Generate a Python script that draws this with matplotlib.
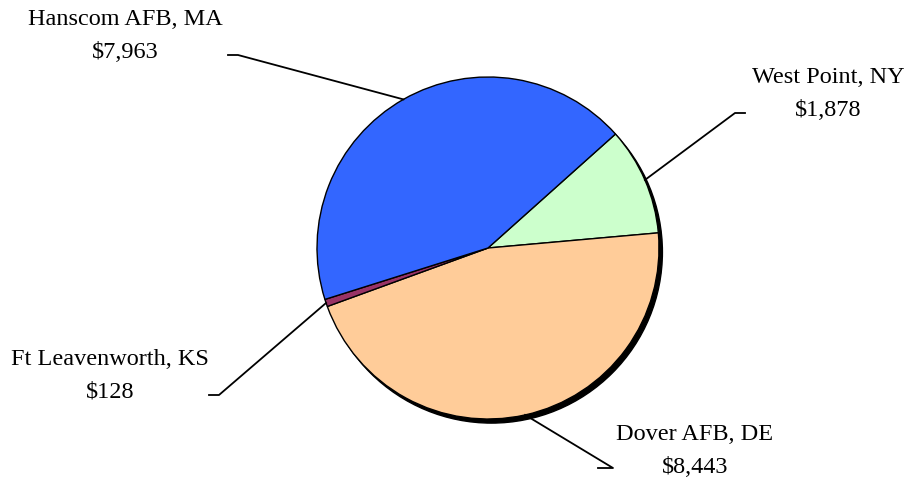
import matplotlib
matplotlib.use("Agg")
import matplotlib.pyplot as plt
import numpy as np
from matplotlib.patches import Circle

# data (clockwise from upper right)
sites = ["West Point, NY", "Dover AFB, DE", "Ft Leavenworth, KS", "Hanscom AFB, MA"]
values = [1878, 8443, 128, 7963]
colors = ["#CCFFCC", "#FFCC99", "#993366", "#3366FF"]

# label layout in pixels: text centre, elbow start, elbow end (elbow end joins the leader)
label_pos = [(828, 94), (695, 451), (110, 376), (125, 36)]
elbow = [((745, 113), (735, 113)), ((598, 468), (613, 468)),
         ((209, 395), (219, 395)), ((228, 55), (238, 55))]

W, H = 907, 479
CX, CY, R = 488, 248, 171


def px(p):
    # pixel (from top-left) -> data units (pie radius = 1)
    return ((p[0] - CX) / R, (CY - p[1]) / R)


plt.rcParams["font.family"] = ["Liberation Serif", "DejaVu Serif"]
fig = plt.figure(figsize=(W / 100, H / 100), dpi=100)
ax = fig.add_axes([0, 0, 1, 1])

# shadow
ax.add_patch(Circle((0.02, -0.024), 1.0, color="black", zorder=0))

wedges, _ = ax.pie(values, colors=colors, startangle=41.8, counterclock=False,
                   radius=1.0, wedgeprops=dict(edgecolor="black", linewidth=1.0))
for w in wedges:
    w.set_zorder(1)

# pie() resets the limits, so set them afterwards
ax.set_xlim(-CX / R, (W - CX) / R)
ax.set_ylim(-(H - CY) / R, CY / R)
ax.set_aspect("equal")
ax.axis("off")

for w, name, v, tp, (e0, e1) in zip(wedges, sites, values, label_pos, elbow):
    ang = np.deg2rad((w.theta1 + w.theta2) / 2)
    tip = (np.cos(ang), np.sin(ang))
    a, b = px(e0), px(e1)
    ax.plot([a[0], b[0], tip[0]], [a[1], b[1], tip[1]], color="black", lw=1.3, zorder=2)
    t = px(tp)
    ax.text(t[0], t[1], f"{name}\n${v:,}", ha="center", va="center",
            fontsize=17.5, linespacing=1.7)

fig.savefig("out.png", dpi=100)
